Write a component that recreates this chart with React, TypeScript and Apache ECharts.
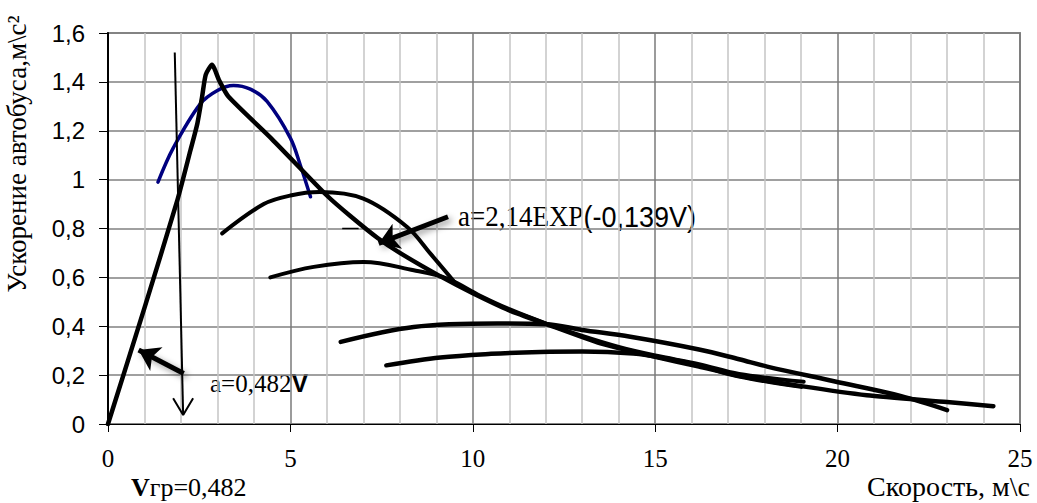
import React, { useEffect, useRef } from 'react';
import * as echarts from 'echarts';

// Axis tick labels
const xTickLabels = ['0', '5', '10', '15', '20', '25'];
const yTickLabels = ['0', '0,2', '0,4', '0,6', '0,8', '1', '1,2', '1,4', '1,6'];

// Main thick curve: linear rise a=0,482V, peak, then exponential decay
const mainCurve: number[][] = [
  [0, 0], [1, 0.475], [1.9, 0.915], [2.26, 1.12],
  [2.45, 1.23], [2.58, 1.34], [2.68, 1.43], [2.85, 1.47],
  [3.05, 1.405], [3.3, 1.34], [4.5, 1.165], [6, 0.935],
  [6.65, 0.85], [7.4, 0.76], [8, 0.7], [9.1, 0.605], [10, 0.535], [11, 0.465], [12, 0.41],
  [13.5, 0.33], [15, 0.275], [16.2, 0.235], [17.3, 0.197], [19, 0.155], [20.8, 0.118],
  [23, 0.09], [24.27, 0.073],
];

// Blue curve (1st gear)
const blueCurve: number[][] = [
  [1.37, 0.99], [1.79, 1.13], [2.53, 1.31], [3.0, 1.365],
  [3.44, 1.385], [3.9, 1.37], [4.36, 1.32], [5.0, 1.17], [5.27, 1.06], [5.55, 0.93],
];

const gear2Curve: number[][] = [
  [3.13, 0.78], [4.27, 0.9], [5.0, 0.935], [5.8, 0.949],
  [7.0, 0.922], [8.2, 0.806], [8.85, 0.695], [9.53, 0.575],
];

const gear3Curve: number[][] = [
  [4.45, 0.6], [5.64, 0.643], [7.01, 0.663],
  [8.38, 0.629], [9.3, 0.595], [10.2, 0.525], [11, 0.47], [12.03, 0.41], [13, 0.36],
  [14, 0.315], [15, 0.28], [16.2, 0.245], [17.3, 0.205], [19.07, 0.173],
];

const gear4Curve: number[][] = [
  [6.38, 0.336], [8.38, 0.397], [10.67, 0.411],
  [12.0, 0.408], [13.0, 0.385], [14.32, 0.357], [16.2, 0.305], [17.3, 0.265],
  [18.07, 0.235], [19.9, 0.175], [21.72, 0.115], [23.0, 0.057],
];

const gear5Curve: number[][] = [
  [7.63, 0.24], [9.11, 0.272], [10.5, 0.287], [11.85, 0.295], [13.0, 0.297],
  [14.4, 0.288], [15.3, 0.268], [16.2, 0.24], [17.3, 0.195], [19.0, 0.153],
];

// Annotation arrows (data coordinates)
const vgrShaft: number[][] = [[1.83, 1.52], [2.06, 0.037]];
const vgrHead: number[][] = [[1.785, 0.105], [2.06, 0.037], [2.333, 0.105]];
const linArrow: number[][] = [[2.075, 0.207], [0.84, 0.303]];
const expArrow: number[][] = [[9.32, 0.848], [7.42, 0.739]];
const dashSeg: number[][] = [[6.42, 0.8], [6.87, 0.8]];

const SERIF = '"Liberation Serif", "Times New Roman", serif';
const SANS = '"Liberation Sans", Arial, sans-serif';

function curve(data: number[][], color: string, width: number, z = 3, smooth = 0.35) {
  return {
    type: 'line',
    data,
    showSymbol: false,
    symbol: 'none',
    smooth,
    silent: true,
    z,
    lineStyle: { color, width, cap: 'round', join: 'round' },
  };
}

function arrow(coords: number[][]) {
  return {
    type: 'lines',
    coordinateSystem: 'cartesian2d',
    silent: true,
    z: 6,
    symbol: ['none', 'arrow'],
    symbolSize: 20,
    lineStyle: {
      color: '#000',
      width: 5,
      opacity: 1,
      curveness: 0,
      shadowBlur: 6,
      shadowColor: 'rgba(0,0,0,0.4)',
      shadowOffsetX: 3,
      shadowOffsetY: 3,
    },
    itemStyle: { color: '#000' },
    data: [{ coords }],
  };
}

export default function App() {
  const ref = useRef<HTMLDivElement>(null);

  useEffect(() => {
    document.body.style.margin = '0';
    if (!ref.current) return;
    const chart = echarts.init(ref.current, null, { renderer: 'svg' });
    const option: any = {
      animation: false,
      backgroundColor: '#fff',
      grid: {
        left: 108, right: 17, top: 33, bottom: 79,
        show: true, borderColor: '#8a8a8a', borderWidth: 2, backgroundColor: 'transparent',
      },
      xAxis: {
        type: 'value',
        min: 0, max: 25, interval: 5,
        axisLine: { show: true, onZero: false, lineStyle: { color: '#000', width: 1 } },
        axisTick: { show: true, length: 8, lineStyle: { color: '#000', width: 1 } },
        axisLabel: {
          margin: 22,
          fontFamily: SERIF, fontSize: 25, color: '#000',
          formatter: (v: number) => xTickLabels[Math.round(v / 5)] ?? '',
        },
        splitLine: { show: true, lineStyle: { color: '#7a7a7a', width: 1.5 } },
        minorTick: { show: false, splitNumber: 5 },
        minorSplitLine: { show: true, lineStyle: { color: '#c4c4c4', width: 1.5 } },
      },
      yAxis: {
        type: 'value',
        min: 0, max: 1.6, interval: 0.2,
        axisLine: { show: true, onZero: false, lineStyle: { color: '#000', width: 2 } },
        axisTick: { show: true, length: 9, lineStyle: { color: '#000', width: 1 } },
        axisLabel: {
          margin: 23,
          fontFamily: SANS, fontSize: 24, color: '#000',
          formatter: (v: number) => yTickLabels[Math.round(v / 0.2)] ?? '',
        },
        splitLine: { show: true, lineStyle: { color: '#808080', width: 1.5 } },
      },
      series: [
        curve(blueCurve, '#00007f', 3.5, 2),
        curve(gear2Curve, '#000', 4),
        curve(gear3Curve, '#000', 4),
        curve(gear4Curve, '#000', 4.5),
        curve(gear5Curve, '#000', 4.5),
        curve(mainCurve, '#000', 4.5, 4, 0.2),
        {
          type: 'line', data: vgrShaft, showSymbol: false, symbol: 'none', silent: true, z: 5,
          lineStyle: { color: '#000', width: 2 },
        },
        {
          type: 'line', data: vgrHead, showSymbol: false, symbol: 'none', silent: true, z: 5,
          lineStyle: { color: '#000', width: 2 },
        },
        {
          type: 'line', data: dashSeg, showSymbol: false, symbol: 'none', silent: true, z: 5,
          lineStyle: { color: '#000', width: 1.5 },
        },
        arrow(linArrow),
        arrow(expArrow),
      ],
      graphic: [
        {
          type: 'text', x: 17, y: 154, rotation: Math.PI / 2, silent: true,
          style: {
            text: 'Ускорение автобуса,м\\с²',
            font: `27px ${SERIF}`, fill: '#000',
            align: 'center', verticalAlign: 'middle',
            textAlign: 'center', textVerticalAlign: 'middle',
          },
        },
        {
          type: 'text', x: 210, y: 383, silent: true,
          style: {
            text: '{t|a=0,482}{b|V}',
            rich: {
              t: { fontFamily: SERIF, fontSize: 25, fill: '#000', color: '#000' },
              b: { fontFamily: SANS, fontSize: 25, fontWeight: 'bold', fill: '#000', color: '#000' },
            },
            align: 'left', verticalAlign: 'middle',
            textAlign: 'left', textVerticalAlign: 'middle',
          },
        },
        {
          type: 'text', x: 458, y: 216, scaleX: 0.9, silent: true,
          style: {
            text: '{t|a=2,14EXP}{s|(-0,139V)}',
            rich: {
              t: { fontFamily: SERIF, fontSize: 30, fill: '#000', color: '#000' },
              s: { fontFamily: SANS, fontSize: 30, fill: '#000', color: '#000' },
            },
            align: 'left', verticalAlign: 'middle',
            textAlign: 'left', textVerticalAlign: 'middle',
          },
        },
        {
          type: 'text', x: 131, y: 487, silent: true,
          style: {
            text: '{b|V}{t|гр=0,482}',
            rich: {
              b: { fontFamily: SERIF, fontSize: 26, fontWeight: 'bold', fill: '#000', color: '#000' },
              t: { fontFamily: SERIF, fontSize: 26, fill: '#000', color: '#000' },
            },
            align: 'left', verticalAlign: 'middle',
            textAlign: 'left', textVerticalAlign: 'middle',
          },
        },
        {
          type: 'text', x: 1030, y: 486, silent: true,
          style: {
            text: 'Скорость, м\\с',
            font: `28px ${SERIF}`, fill: '#000',
            align: 'right', verticalAlign: 'middle',
            textAlign: 'right', textVerticalAlign: 'middle',
          },
        },
      ],
    };
    chart.setOption(option);
    return () => chart.dispose();
  }, []);

  return <div ref={ref} style={{ width: 1037, height: 503 }} />;
}
